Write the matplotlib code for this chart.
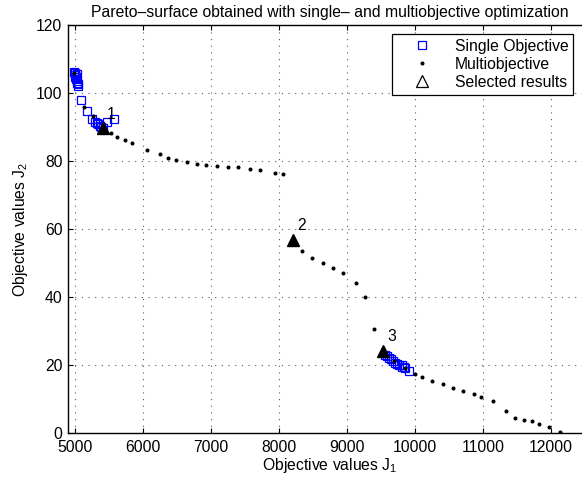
#!/usr/bin/env python3
"""Pareto-surface: single- vs multiobjective optimization results."""

import matplotlib
matplotlib.use("Agg")
import matplotlib.pyplot as plt
from matplotlib.lines import Line2D

plt.rcParams["font.family"] = ["Liberation Sans", "DejaVu Sans"]
FS = 11.3
plt.rcParams["font.size"] = FS

# single objective runs (blue squares)
single_j1 = [4995, 5005, 5010, 5000, 5020, 5015, 5030, 5025, 5040, 5045, 5035,
             5084, 5172, 5255, 5300, 5320, 5345, 5370, 5390, 5410, 5466, 5574,
             9559, 9593, 9622, 9643, 9672, 9701, 9731, 9770, 9809, 9853, 9916,
             9804, 9838]
single_j2 = [106.2, 105.8, 105.2, 104.8, 104.6, 104.0, 103.6, 103.0, 102.6, 102.0, 105.5,
             98.0, 94.7, 92.5, 91.6, 91.2, 90.8, 90.4, 90.0, 89.8, 91.5, 92.3,
             22.9, 22.6, 22.2, 21.7, 21.2, 20.7, 20.3, 19.9, 19.5, 19.2, 18.3,
             20.0, 19.3]

# multiobjective front (black dots)
multi_j1 = [4990, 5137, 5270, 5417, 5525, 5622, 5735, 5843, 6059, 6250, 6372, 6490,
            6647, 6799, 6926, 7093, 7254, 7401, 7574, 7725, 7946, 8063, 8206, 8338,
            8480, 8642, 8794, 8936, 9128, 9265, 9397, 9534, 9691, 9848, 9995, 10105,
            10248, 10417, 10563, 10703, 10860, 10973, 11140, 11343, 11475, 11605,
            11723, 11824, 11971, 12135]
multi_j2 = [106.0, 95.8, 93.2, 89.6, 88.3, 87.2, 86.2, 85.2, 83.1, 82.0, 81.0, 80.2,
            79.6, 79.2, 78.8, 78.6, 78.3, 78.1, 77.6, 77.3, 76.6, 76.2, 56.8, 53.5,
            51.6, 50.0, 48.5, 47.1, 44.1, 40.1, 30.5, 24.2, 21.2, 19.1, 17.5, 16.6,
            15.4, 14.3, 13.3, 12.4, 11.5, 10.7, 9.3, 6.6, 4.5, 3.7,
            3.4, 2.6, 1.7, 0.2]

# selected results (triangles)
sel_j1 = [5417, 8206, 9534]
sel_j2 = [89.6, 56.8, 24.2]
sel_labels = ["1", "2", "3"]

xticks = [5000, 6000, 7000, 8000, 9000, 10000, 11000, 12000]
yticks = [0, 20, 40, 60, 80, 100, 120]

W, H = 582, 484
fig = plt.figure(figsize=(W / 100, H / 100), dpi=100)
ax = fig.add_axes([68 / W, 51 / H, 524 / W, 408 / H])

sq = dict(linestyle="none", marker="s", ms=5.8, mfc="none", mec="#0000ff", mew=0.9)
dot = dict(linestyle="none", marker="o", ms=1.9, mfc="k", mec="k")

ax.plot(single_j1, single_j2, **sq)
ax.plot(multi_j1, multi_j2, **dot)
ax.plot(sel_j1, sel_j2, linestyle="none", marker="^", ms=8.5, mfc="k", mec="k")
for x, y, lab in zip(sel_j1, sel_j2, sel_labels):
    ax.annotate(lab, (x, y), xytext=(6, 10), textcoords="offset points",
                ha="center", va="center", fontsize=FS)

ax.set_xlim(4900, 12600)
ax.set_ylim(0, 120)
ax.set_xticks(xticks)
ax.set_yticks(yticks)
ax.tick_params(direction="in", top=True, right=True, length=3.5, width=0.8,
               labelsize=FS)
ax.tick_params(axis="x", pad=5)
ax.tick_params(axis="y", pad=4)
for s in ax.spines.values():
    s.set_linewidth(1.0)
ax.grid(True, linestyle=(0, (1, 5)), color="0.35", linewidth=0.8)

ax.set_title("Pareto\u2013surface obtained with single\u2013 and multiobjective optimization",
             fontsize=FS, pad=6)
ax.set_xlabel("Objective values $\\mathregular{J_1}$", fontsize=FS, labelpad=1)
ax.set_ylabel("Objective values $\\mathregular{J_2}$", fontsize=FS, labelpad=4)

handles = [
    Line2D([], [], **sq),
    Line2D([], [], **dot),
    Line2D([], [], linestyle="none", marker="^", ms=8, mfc="none", mec="k", mew=0.9),
]
leg = fig.legend(handles, ["Single Objective", "Multiobjective", "Selected results"],
                 loc="upper right", bbox_to_anchor=(573 / W, 1 - 34 / H),
                 bbox_transform=fig.transFigure, frameon=True, fancybox=False,
                 edgecolor="k", framealpha=1, fontsize=FS, borderpad=0.3,
                 labelspacing=0.2, handlelength=3.2, handletextpad=0.5,
                 borderaxespad=0)
leg.get_frame().set_linewidth(0.9)

fig.savefig("out.png", dpi=100)
